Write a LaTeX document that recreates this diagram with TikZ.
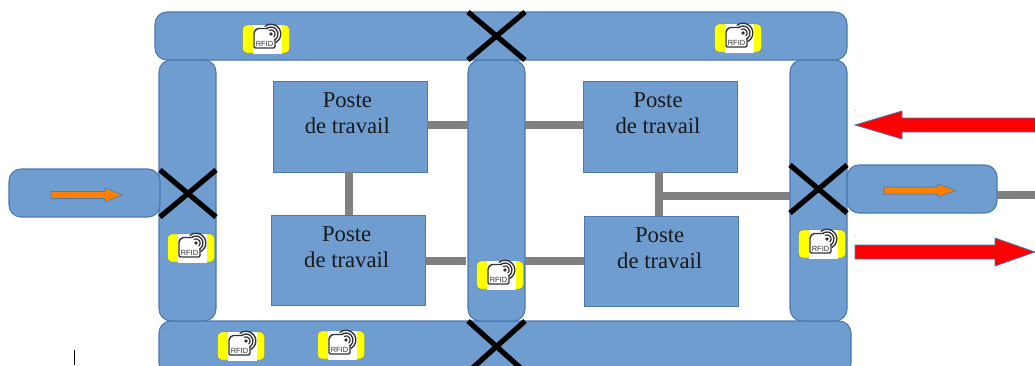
\documentclass[tikz,border=0pt]{standalone}
\usepackage{fontspec}
\setmainfont{Liberation Serif}
\setsansfont{Liberation Sans}
\definecolor{railblue}{HTML}{6F9DD0}
\definecolor{edgeblue}{HTML}{4A78B0}
\definecolor{linkgrey}{HTML}{808080}
\definecolor{tagyellow}{HTML}{FFFF00}
\definecolor{arroworange}{HTML}{FF8000}
\definecolor{icongrey}{HTML}{333333}
\tikzset{
  sized/.style 2 args={minimum width=#1*0.75pt,minimum height=#2*0.75pt,inner sep=0pt,outer sep=0pt},
  rail/.style={draw=edgeblue,line width=0.8pt,fill=railblue,rounded corners=9pt},
  poste/.style={draw=edgeblue,line width=0.7pt,fill=railblue,align=center,font=\fontsize{17}{19.6}\selectfont,text=black!90},
  linkline/.style={draw=linkgrey,line width=5.5pt},
  cross/.style={draw=black,line width=3.9pt},
  bigarrow/.style={draw=edgeblue,line width=0.6pt,fill=red},
  smallarrow/.style={draw=edgeblue,line width=0.4pt,fill=arroworange},
  rfid/.pic={
    \fill[draw=edgeblue,line width=0.3pt,fill=tagyellow,rounded corners=3pt] (-23.5,-14) rectangle (23.5,14);
    \fill[white] (-13.5,-14.5) rectangle (15.5,14.5);
    \draw[icongrey,line width=1.1pt,rounded corners=1pt] (2,-10.5) -- (-9,-10.5) -- (-12,-7) -- (-12,9) -- (9,9) -- (9,1);
    \fill[icongrey] (5,-5) circle[radius=1.9];
    \draw[icongrey,line width=0.9pt] (5,-5) ++(-120:4.2) arc[start angle=-120,end angle=50,radius=4.2];
    \draw[icongrey,line width=1pt] (5,-5) ++(-130:7) arc[start angle=-130,end angle=60,radius=7];
    \draw[icongrey,line width=1pt] (5,-5) ++(-130:9.8) arc[start angle=-130,end angle=60,radius=9.8];
    \node[inner sep=0pt,text=icongrey,font=\sffamily\fontsize{5.6}{6}\selectfont] (-label) at (-1.5,4.8) {RFID};
  }
}
\begin{document}
\begin{tikzpicture}[x=0.75pt,y=-0.75pt]
\useasboundingbox (0,0) rectangle (1035,365);
\clip (0,0) rectangle (1035,365);
\node[rail,sized={692}{48}] (top) at (501,36) {};
\node[rail,sized={692}{54}] (bottom) at (505,348) {};
\node[rail,sized={57}{261}] (left) at (187.5,190.5) {};
\node[rail,sized={57}{261}] (middle) at (496.5,190.5) {};
\node[rail,sized={57}{261}] (right) at (818.5,190.5) {};
\node[rail,sized={151}{48}] (entry) at (84.5,193) {};
\node[rail,sized={150}{48}] (exit) at (922,189) {};
\node[poste,sized={154}{91}] (p1) at (350,126.5) {\hspace*{-4pt}Poste\\\hspace*{-4pt}de travail\\\mbox{}};
\node[poste,sized={154}{90}] (p2) at (348,260) {\hspace*{-2pt}Poste\\\hspace*{-2pt}de travail\\\mbox{}};
\node[poste,sized={154}{91}] (p3) at (660,126.5) {\hspace*{-3pt}Poste\\\hspace*{-3pt}de travail\\\mbox{}};
\node[poste,sized={154}{90}] (p4) at (661,261) {\hspace*{-2pt}Poste\\\hspace*{-2pt}de travail\\\mbox{}};
\coordinate (out) at (1035,195);
\coordinate (branch) at (659,196);
\draw[linkline] (p1.east |- 0,125) -- (middle.west |- 0,125);
\draw[linkline] (middle.east |- 0,125) -- (p3.west |- 0,125);
\draw[linkline] (p2.east |- 0,261) -- (466,261);
\draw[linkline] (middle.east |- 0,261) -- (p4.west |- 0,261);
\draw[linkline] (p1.south -| 349,0) -- (p2.north -| 349,0);
\draw[linkline] (p3.south -| 659,0) -- (p4.north -| 659,0);
\draw[linkline] (branch) -- (right.west |- branch);
\draw[linkline] (exit.east |- out) -- (out);
\draw[cross] (160,170) -- (216,217) (160,217) -- (216,170);
\draw[cross] (468,12) -- (525,60) (468,60) -- (525,12);
\draw[cross] (468,321) -- (525,372) (468,372) -- (525,321);
\draw[cross] (790,165) -- (847,213) (790,213) -- (847,165);
\draw[smallarrow] (51,191.5) -- (105,191.5) -- (105,188) -- (122,195) -- (105,202) -- (105,198.5) -- (51,198.5) -- cycle;
\draw[smallarrow] (884,187) -- (938,187) -- (938,184) -- (956,190.5) -- (938,197) -- (938,194) -- (884,194) -- cycle;
\draw[bigarrow] (855,125) -- (902,111) -- (902,118) -- (1040,118) -- (1040,132) -- (902,132) -- (902,139) -- cycle;
\draw[bigarrow] (855,245) -- (995,245) -- (995,238) -- (1035,252) -- (995,266) -- (995,259) -- (855,259) -- cycle;
\pic (t1) at (266,39) {rfid};
\pic (t2) at (738,38) {rfid};
\pic (t3) at (191,248) {rfid};
\pic (t4) at (241,346) {rfid};
\pic (t5) at (341,345) {rfid};
\pic (t6) at (500,275) {rfid};
\pic (t7) at (822,244) {rfid};
\draw[black,line width=0.7pt] (74,350) -- (74,365);
\fill[edgeblue] (855,110) circle[radius=0.5] (855,236) circle[radius=0.5];
\end{tikzpicture}
\end{document}
